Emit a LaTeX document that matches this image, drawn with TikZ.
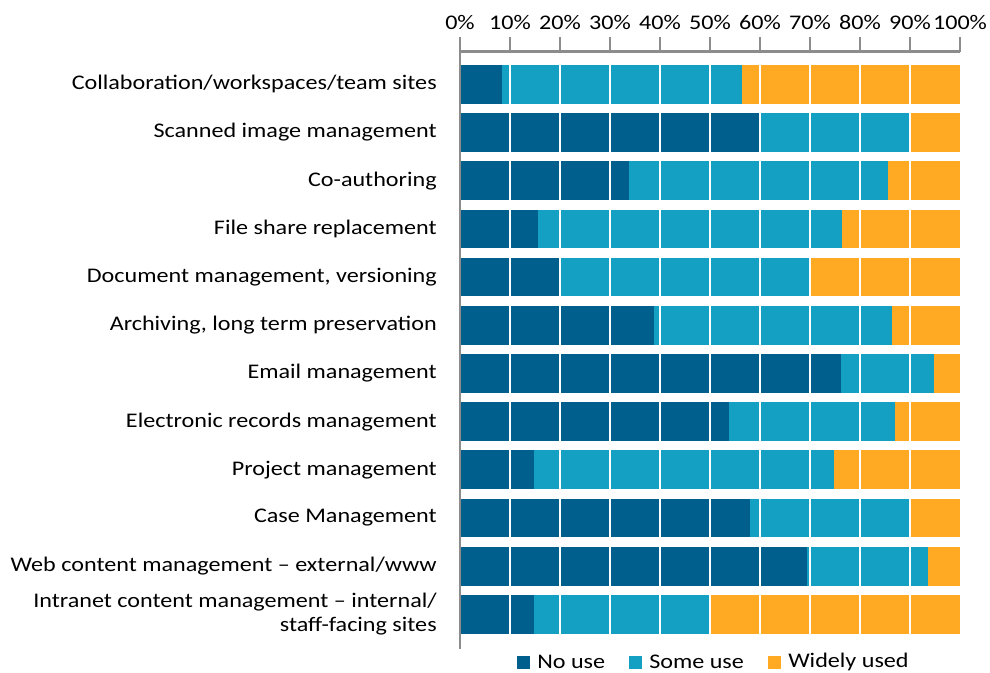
\documentclass[tikz,border=0pt]{standalone}
\usepackage{fontspec}
\setmainfont{Carlito}[FakeStretch=1.16]
\definecolor{nouse}{RGB}{0,95,140}
\definecolor{someuse}{RGB}{20,160,195}
\definecolor{wide}{RGB}{255,170,34}
\definecolor{axisgray}{RGB}{140,140,140}
\tikzset{
  axisline/.style={draw=axisgray, line width=1.6pt},
  gridline/.style={draw=white, line width=1.1pt},
  catlab/.style={anchor=east, inner sep=0pt, font=\fontsize{15.6}{18}\selectfont, align=right},
  ticklab/.style={anchor=center, inner sep=0pt, font=\fontsize{15.6}{18}\selectfont},
  leglab/.style={anchor=west, inner sep=0pt, font=\fontsize{15.6}{18}\selectfont},
}
\begin{document}
\begin{tikzpicture}[x=0.75pt,y=-0.75pt]
\useasboundingbox (0,0) rectangle (990,672);
\foreach \i/\a/\b in {1/8.4/56.4,2/60/90,3/33.8/85.6,4/15.6/76.4,5/20/69.9,6/38.8/86.4,7/76.2/94.7,8/53.8/87.0,9/14.8/74.8,10/58/90,11/69.4/93.5,12/14.8/49.8}{
  \pgfmathsetmacro\yt{65+48.18*(\i-1)}
  \pgfmathsetmacro\yb{\yt+38.7}
  \fill[nouse] (461,\yt) rectangle ({460+5*\a},\yb);
  \fill[someuse] ({460+5*\a},\yt) rectangle ({460+5*\b},\yb);
  \fill[wide] ({460+5*\b},\yt) rectangle (960,\yb);
}
\foreach \k in {1,...,9}{
  \draw[gridline] ({460+50*\k},64) -- ({460+50*\k},634);
}
\draw[axisline] (460,37) -- (460,649);
\draw[axisline] (460,51.5) -- (960,51.5);
\foreach \k in {1,...,10}{
  \draw[axisline] ({460+50*\k},37) -- ({460+50*\k},51.5);
}
\foreach \k in {0,...,10}{
  \pgfmathtruncatemacro\pc{10*\k}
  \node[ticklab] (t\k) at ({460+50*\k},22) {\pc\%};
}
\node[catlab] (c1) at (437,84.3) {Collaboration/workspaces/team sites};
\node[catlab] (c2) at (437,132.5) {Scanned image management};
\node[catlab] (c3) at (437,180.7) {Co-authoring};
\node[catlab] (c4) at (437,228.8) {File share replacement};
\node[catlab] (c5) at (437,277.0) {Document management, versioning};
\node[catlab] (c6) at (437,325.2) {Archiving, long term preservation};
\node[catlab] (c7) at (437,373.4) {Email management};
\node[catlab] (c8) at (437,421.6) {Electronic records management};
\node[catlab] (c9) at (437,469.7) {Project management};
\node[catlab] (c10) at (437,517.9) {Case Management};
\node[catlab] (c11) at (437,566.1) {Web content management – external/www};
\node[catlab] (c12) at (437,614.3) {Intranet content management – internal/\\staff-facing sites};
\fill[nouse] (517,656) rectangle (530,669);
\node[leglab] (l1) at (537,662) {No use};
\fill[someuse] (629,656) rectangle (642,669);
\node[leglab] (l2) at (649,662) {Some use};
\fill[wide] (768,656) rectangle (781,669);
\node[leglab] (l3) at (788,662) {Widely used};
\end{tikzpicture}
\end{document}
